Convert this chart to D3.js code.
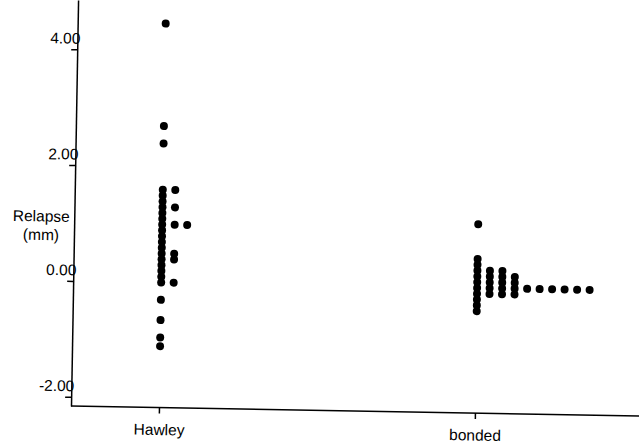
<!DOCTYPE html>
<html>
<head>
<meta charset="utf-8">
<script src="https://cdn.jsdelivr.net/npm/d3@7"></script>
<style>
  html, body { margin: 0; padding: 0; background: #fff; }
  svg { display: block; }
</style>
</head>
<body>
<svg id="chart" width="639" height="443"></svg>
<script>
// Relapse (mm) per retainer group, one entry per patient
const groups = ["Hawley", "bonded"];
const hawley = [4.47, 2.7, 2.4,
  1.6, 1.6, 1.5, 1.4, 1.3, 1.3, 1.2, 1.1, 1.0, 1.0, 1.0,
  0.9, 0.8, 0.7, 0.6, 0.5, 0.5, 0.4, 0.4, 0.3, 0.2, 0.1, 0.0, 0.0,
  -0.3, -0.65, -0.95, -1.1];
const bonded = [1.1, 0.5, 0.4, 0.3, 0.3, 0.3,
  0.2, 0.2, 0.2, 0.2, 0.1, 0.1, 0.1, 0.1,
  0.0, 0.0, 0.0, 0.0, 0.0, 0.0, 0.0, 0.0, 0.0, 0.0,
  -0.1, -0.1, -0.1, -0.1, -0.2, -0.3, -0.4];
const yTicks = [-2, 0, 2, 4];
const yTitle = ["Relapse", "(mm)"];

const W = 639;
const origin = { x: 71, y: 406 };   // where the two axes meet
const tilt = 1;                     // whole plot sits at a slight angle
const dotR = 4;
const dotStep = 12.5;               // sideways offset for tied values
const font = "'Liberation Sans', Arial, Helvetica, sans-serif";
const fontSize = 15.5;

const svg = d3.select("#chart");
const g = svg.append("g")
  .attr("transform", `rotate(${tilt},${origin.x},${origin.y})`);

const y = d3.scaleLinear().domain([-2.16, 4.85]).range([origin.y, 0]);
const x = d3.scalePoint().domain(groups).range([159, 475]);

// y axis
const yAxis = g.append("g")
  .attr("transform", `translate(${origin.x},0)`)
  .call(d3.axisLeft(y).tickValues(yTicks).tickFormat(d => d.toFixed(2))
    .tickSize(6).tickSizeOuter(0));
yAxis.selectAll("path, line").attr("stroke", "#000").attr("stroke-width", 1.5);
yAxis.selectAll("text")
  .attr("x", 3).attr("y", -6).attr("dy", null)
  .attr("font-family", font).attr("font-size", fontSize).attr("fill", "#000");

// x axis: long baseline plus a short tick under each group
const xAxis = g.append("g")
  .attr("transform", `translate(0,${origin.y})`)
  .call(d3.axisBottom(x).tickSize(6).tickSizeOuter(0));
xAxis.select(".domain").remove();
xAxis.selectAll("line").attr("stroke", "#000").attr("stroke-width", 1.5);
xAxis.selectAll("text")
  .attr("y", 27.5).attr("dy", null)
  .attr("font-family", font).attr("font-size", fontSize).attr("fill", "#000");
xAxis.append("line")
  .attr("x1", origin.x).attr("x2", W + 20)
  .attr("stroke", "#000").attr("stroke-width", 1.5);

// axis title
g.append("text")
  .attr("x", 38).attr("y", y(1.0) - 1)
  .attr("text-anchor", "middle")
  .attr("font-family", font).attr("font-size", fontSize).attr("fill", "#000")
  .selectAll("tspan").data(yTitle).join("tspan")
  .attr("x", 38).attr("dy", (d, i) => i === 0 ? 0 : 18.5)
  .text(d => d);

// dot plot: equal values line up to the right of the group position
function stack(values, group) {
  const seen = new Map();
  return values.map(v => {
    const key = v.toFixed(2);
    const slot = seen.get(key) || 0;
    seen.set(key, slot + 1);
    return { group, value: v, slot };
  });
}
const points = stack(hawley, groups[0]).concat(stack(bonded, groups[1]));

g.append("g").selectAll("circle").data(points).join("circle")
  .attr("cx", d => x(d.group) + d.slot * dotStep)
  .attr("cy", d => y(d.value))
  .attr("r", dotR)
  .attr("fill", "#000");
</script>
</body>
</html>
